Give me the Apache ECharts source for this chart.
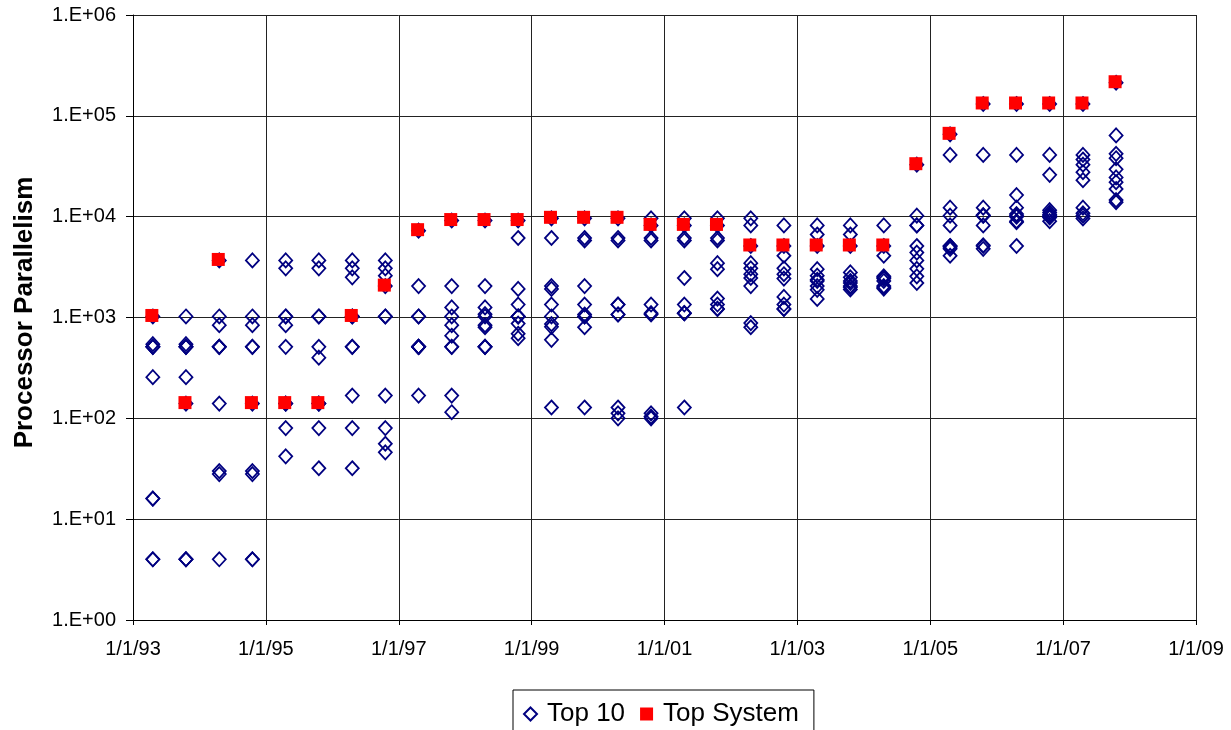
<!DOCTYPE html>
<html>
<head>
<meta charset="utf-8">
<script src="https://cdn.jsdelivr.net/npm/echarts@6/dist/echarts.min.js"></script>
<style>
html,body{margin:0;padding:0;background:#fff;}
#chart{width:1231px;height:730px;}
</style>
</head>
<body>
<div id="chart"></div>
<script>
// TOP500 list dates (as plotted)
const listDates = [
  '1993-04-20','1993-10-19','1994-04-20','1994-10-19','1995-04-20','1995-10-19',
  '1996-04-20','1996-10-19','1997-04-20','1997-10-19','1998-04-20','1998-10-19',
  '1999-04-20','1999-10-19','2000-04-20','2000-10-19','2001-04-20','2001-10-19',
  '2002-04-20','2002-10-19','2003-04-20','2003-10-19','2004-04-20','2004-10-19',
  '2005-04-20','2005-10-19','2006-04-20','2006-10-19','2007-04-20','2007-10-19'
];

// Processor count of the #1 system on each list
const topSystem = [
  1024, 140, 3680, 140, 140, 140,
  1024, 2048, 7264, 9152, 9152, 9152,
  9632, 9632, 9632, 8192, 8192, 8192,
  5120, 5120, 5120, 5120, 5120, 32768,
  65536, 131072, 131072, 131072, 131072, 212992
];

// Processor counts of the top 10 systems on each list
const top10 = [
  [1024, 544, 512, 512, 512, 256, 16, 16, 4, 4],
  [140, 1024, 544, 512, 512, 512, 256, 4, 4, 4],
  [3680, 1024, 840, 512, 512, 512, 140, 30, 28, 4],
  [140, 3680, 1024, 840, 512, 512, 30, 28, 4, 4],
  [140, 3680, 3072, 1024, 1024, 840, 512, 80, 42, 140],
  [140, 3680, 3072, 1024, 1024, 512, 400, 80, 32, 140],
  [1024, 3680, 3072, 2500, 512, 512, 168, 80, 32, 1024],
  [2048, 3680, 3072, 2600, 1024, 168, 80, 56, 46, 1024],
  [7264, 2048, 1024, 512, 512, 512, 168, 1024, 512, 512],
  [9152, 2048, 1260, 1024, 840, 660, 512, 512, 168, 115],
  [9152, 2048, 1260, 1080, 1024, 840, 800, 512, 512, 512],
  [9152, 6144, 1920, 1344, 1024, 1024, 870, 690, 624, 1024],
  [9632, 6144, 2048, 1920, 1344, 1024, 860, 808, 600, 128],
  [9632, 6144, 5808, 2048, 1344, 1072, 1024, 1024, 800, 128],
  [9632, 6144, 5808, 1344, 1344, 1072, 1072, 128, 112, 100],
  [8192, 9632, 6144, 5808, 1344, 1104, 1072, 112, 104, 100],
  [8192, 9632, 6144, 5808, 2464, 1344, 1104, 1104, 1104, 128],
  [8192, 9632, 6144, 5808, 3456, 3016, 1540, 1344, 1216, 1216],
  [5120, 9632, 8192, 3456, 3072, 2688, 2464, 2048, 880, 800],
  [5120, 8192, 4096, 3072, 2688, 2432, 1600, 1344, 1216, 1216],
  [5120, 8192, 6656, 3016, 2600, 2368, 2048, 1880, 1530, 2304],
  [5120, 8192, 6656, 2800, 2500, 2304, 2200, 2048, 2000, 1900],
  [5120, 8192, 4096, 2560, 2500, 2432, 2304, 2048, 2000, 1936],
  [32768, 10240, 8192, 5120, 4400, 3680, 3040, 2560, 2200, 8192],
  [65536, 40960, 12288, 10240, 8192, 5120, 5120, 5000, 4800, 4096],
  [131072, 40960, 12288, 10368, 10240, 10240, 8192, 5200, 5120, 4800],
  [131072, 40960, 16384, 12288, 10600, 10240, 10000, 9000, 8800, 5120],
  [131072, 40960, 26000, 11600, 11000, 10500, 10240, 9800, 9024, 10000],
  [131072, 40960, 36864, 32768, 27648, 23000, 12288, 10800, 10240, 9600],
  [212992, 64000, 42000, 38000, 29500, 24500, 22000, 18800, 14600, 13900]
];

const seriesNames = ['Top 10', 'Top System'];
const xRange = [1993, 2009];
const yRange = [1, 1e6];

function decYear(s) {
  const [y, m, d] = s.split('-').map(Number);
  const start = Date.UTC(y, 0, 1), end = Date.UTC(y + 1, 0, 1);
  return y + (Date.UTC(y, m - 1, d) - start) / (end - start);
}

const top10Data = [];
top10.forEach((arr, i) => {
  const x = decYear(listDates[i]);
  arr.forEach(v => top10Data.push([x, v]));
});
const topData = topSystem.map((v, i) => [decYear(listDates[i]), v]);

const FONT = '"Liberation Sans", Arial, sans-serif';
const chart = echarts.init(document.getElementById('chart'), null, {renderer: 'canvas'});
chart.setOption({
  animation: false,
  backgroundColor: '#fff',
  textStyle: {fontFamily: FONT},
  grid: {left: 133, right: 35, top: 15, bottom: 110, containLabel: false},
  legend: {
    left: 513, top: 690,
    orient: 'horizontal',
    borderColor: '#000', borderWidth: 1, borderRadius: 0,
    padding: [11, 15, 12, 10],
    itemGap: 15,
    itemWidth: 13, itemHeight: 13,
    textStyle: {fontSize: 26, color: '#000', fontFamily: FONT, padding: [0, 0, 0, 5]},
    data: seriesNames
  },
  xAxis: {
    type: 'value', min: xRange[0], max: xRange[1], interval: 2,
    axisLine: {show: true, lineStyle: {color: '#000', width: 1}},
    axisTick: {show: true, length: 5, lineStyle: {color: '#000'}},
    axisLabel: {
      fontSize: 20, color: '#000', margin: 19, fontFamily: FONT,
      formatter: v => '1/1/' + String(v % 100).padStart(2, '0')
    },
    splitLine: {show: true, lineStyle: {color: '#222', width: 1}}
  },
  yAxis: {
    type: 'log', logBase: 10, min: yRange[0], max: yRange[1],
    name: 'Processor Parallelism',
    nameLocation: 'middle', nameRotate: 90, nameGap: 95,
    nameTextStyle: {fontSize: 26, fontWeight: 'bold', color: '#000', fontFamily: FONT, padding: [0, 0, 0, 10]},
    axisLine: {show: true, lineStyle: {color: '#000', width: 1}},
    axisTick: {show: true, length: 7, lineStyle: {color: '#000'}},
    axisLabel: {
      fontSize: 20, color: '#000', margin: 17, fontFamily: FONT,
      formatter: v => '1.E+' + String(Math.round(Math.log10(v))).padStart(2, '0')
    },
    splitLine: {show: true, lineStyle: {color: '#222', width: 1}}
  },
  series: [
    {
      name: seriesNames[0], type: 'scatter',
      symbol: 'diamond', symbolSize: [13, 14],
      itemStyle: {color: 'rgba(255,255,255,0)', borderColor: '#000080', borderWidth: 1.8, opacity: 1},
      data: top10Data, z: 2
    },
    {
      name: seriesNames[1], type: 'scatter',
      symbol: 'rect', symbolSize: 13, symbolOffset: [-1, -1],
      itemStyle: {color: '#ff0000', opacity: 1},
      data: topData, z: 3
    }
  ]
});
</script>
</body>
</html>
